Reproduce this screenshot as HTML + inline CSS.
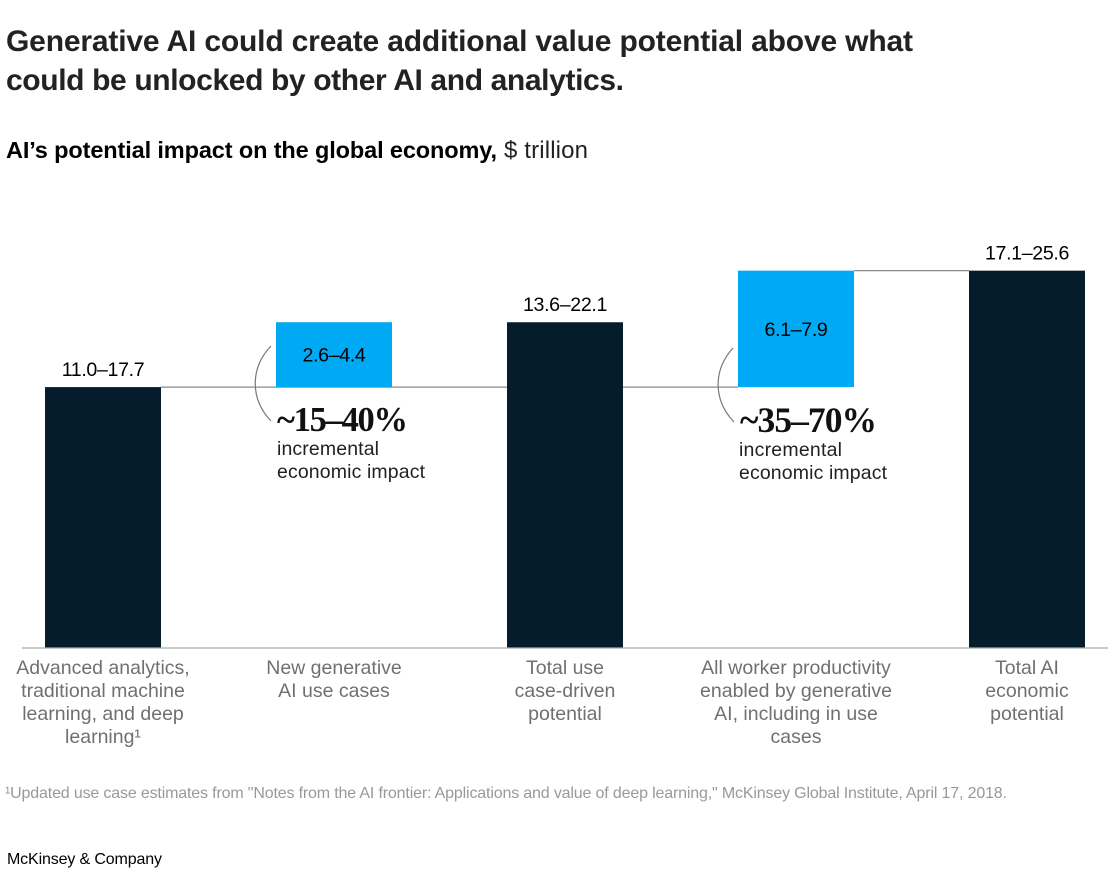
<!DOCTYPE html>
<html lang="en">
<head>
<meta charset="utf-8">
<title>AI's potential impact on the global economy</title>
<style>
html,body{margin:0;padding:0;background:#fff;width:1114px;height:888px;overflow:hidden}
svg{display:block;font-family:"Liberation Sans",sans-serif}
</style>
</head>
<body>
<svg id="chart" width="1114" height="888" viewBox="0 0 1114 888">
  <text x="6" y="51" font-size="30" font-weight="700" fill="#222" textLength="907">Generative AI could create additional value potential above what</text>
  <text x="6" y="90" font-size="30" font-weight="700" fill="#222" textLength="618">could be unlocked by other AI and analytics.</text>
  <text x="6" y="158" font-size="23.5" font-weight="700" fill="#000" textLength="491">AI’s potential impact on the global economy,</text>
  <text x="504" y="158" font-size="24" fill="#222" textLength="84">$ trillion</text>

  <g id="connectors"></g>
  <g id="bars"></g>
  <g id="valueLabels"></g>
  <g id="categoryLabels"></g>
  <line x1="22" y1="648" x2="1108" y2="648" stroke="#aaa" stroke-width="1.2"/>

  <path d="M271 346 C250 368 250 399 271 421" fill="none" stroke="#777" stroke-width="1.2"/>
  <text x="277" y="431" font-family="'Liberation Serif',serif" font-size="34.5" font-weight="700" fill="#111" textLength="131">~15–40%</text>
  <text x="277" y="455" font-size="19.5" fill="#222" textLength="102">incremental</text>
  <text x="277" y="478" font-size="19.5" fill="#222" textLength="148">economic impact</text>

  <path d="M733 348 C713 370 713 400 734 422" fill="none" stroke="#777" stroke-width="1.2"/>
  <text x="740" y="432" font-family="'Liberation Serif',serif" font-size="35.5" font-weight="700" fill="#111" textLength="137">~35–70%</text>
  <text x="739" y="456" font-size="19.5" fill="#222" textLength="103">incremental</text>
  <text x="739" y="479" font-size="19.5" fill="#222" textLength="148">economic impact</text>

  <text x="5" y="798" font-size="16" fill="#999" textLength="1002">¹Updated use case estimates from "Notes from the AI frontier: Applications and value of deep learning," McKinsey Global Institute, April 17, 2018.</text>
  <text x="7" y="864" font-size="16" fill="#000" textLength="155">McKinsey &amp; Company</text>
</svg>
<script>
const categories = [
  ["Advanced analytics,", "traditional machine", "learning, and deep", "learning¹"],
  ["New generative", "AI use cases"],
  ["Total use", "case-driven", "potential"],
  ["All worker productivity", "enabled by generative", "AI, including in use", "cases"],
  ["Total AI", "economic", "potential"]
];
const lowValues = [11.0, 2.6, 13.6, 6.1, 17.1];
const highValues = [17.7, 4.4, 22.1, 7.9, 25.6];
const baseValues = [0, 17.7, 0, 17.7, 0];
const barKinds = ["total", "increment", "total", "increment", "total"];

const SVG_NS = "http://www.w3.org/2000/svg";
const colors = { total: "#051c2c", increment: "#00a9f4" };
const barWidth = 116;
function xCenter(i) { return 103 + 231 * i; }
function yValue(v) { return 648 - v * 14.74; }
function make(tag, attrs, parent) {
  const el = document.createElementNS(SVG_NS, tag);
  for (const k in attrs) el.setAttribute(k, attrs[k]);
  parent.appendChild(el);
  return el;
}

const connectorsG = document.getElementById("connectors");
const barsG = document.getElementById("bars");
const valuesG = document.getElementById("valueLabels");
const catsG = document.getElementById("categoryLabels");

// connector from first bar top through to the second increment's base
const lowerConnector = make("line", { x1: xCenter(0) + barWidth / 2, x2: xCenter(3) - barWidth / 2, y1: yValue(highValues[0]), y2: yValue(baseValues[3]), stroke: "#8a8a8a", "stroke-width": 1.2 }, connectorsG);


// connector from second increment's top to the final total
const upperConnector = make("line", { x1: xCenter(3) + barWidth / 2, x2: xCenter(4) - barWidth / 2, y1: yValue(highValues[4]), y2: yValue(highValues[4]), stroke: "#8a8a8a", "stroke-width": 1.2 }, connectorsG);



highValues.forEach(function (high, i) {
  const base = baseValues[i];
  const top = yValue(base + high);
  const bottom = yValue(base);
  const bar = make("rect", { x: xCenter(i) - barWidth / 2, y: top, width: barWidth, height: bottom - top, fill: colors[barKinds[i]] }, barsG);
  
  

  const labelY = barKinds[i] === "increment" ? (top + bottom) / 2 + 7 : top - 11;
  const label = make("text", { x: xCenter(i), y: labelY, "text-anchor": "middle", "font-size": 19.6, "letter-spacing": "-0.35", fill: "#000" }, valuesG);
  label.textContent = lowValues[i].toFixed(1) + "–" + high.toFixed(1);
  
  

  categories[i].forEach(function (line, j) {
    const cat = make("text", { x: xCenter(i), y: 674 + 23 * j, "text-anchor": "middle", "font-size": 19.5, fill: "#707070" }, catsG);
    cat.textContent = line;
    
    
  });
});
</script>
</body>
</html>
